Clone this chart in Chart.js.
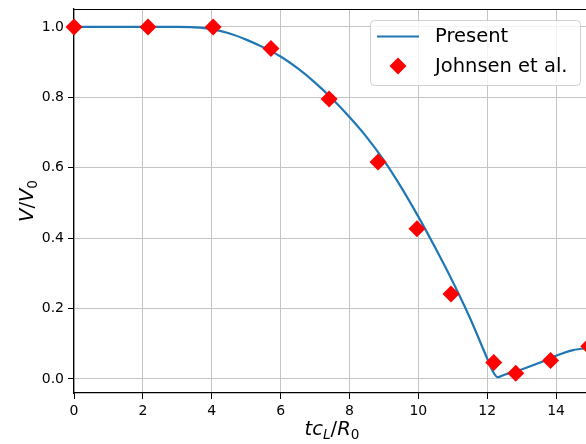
<!DOCTYPE html>
<html>
<head>
<meta charset="utf-8">
<script src="https://cdn.jsdelivr.net/npm/chart.js@4/dist/chart.umd.min.js"></script>
<style>
  html, body { margin: 0; padding: 0; background: #fff; }
  #wrap { width: 586px; height: 444px; position: relative; }
</style>
</head>
<body>
<div id="wrap"><canvas id="chart" width="586" height="444"></canvas></div>
<script>
// curve from the present model
const presentX = [0, 1, 2, 3, 3.5, 4, 4.5, 5, 5.5, 6, 6.5, 7, 7.5, 8, 8.5, 9, 9.5, 10, 10.5, 11, 11.5, 12, 12.15, 12.3, 12.5, 13, 13.5, 14, 14.5, 15];
const presentY = [1, 1, 1, 1, 0.999, 0.994, 0.982, 0.964, 0.942, 0.916, 0.882, 0.842, 0.796, 0.744, 0.687, 0.621, 0.545, 0.461, 0.371, 0.276, 0.173, 0.058, 0.024, 0.005, 0.012, 0.027, 0.045, 0.066, 0.082, 0.088];

// Johnsen et al. reference points
const johnsenX = [0, 2.15, 4.04, 5.72, 7.41, 8.83, 9.96, 10.95, 12.19, 12.83, 13.84, 14.95];
const johnsenY = [1.0, 1.0, 1.0, 0.939, 0.795, 0.616, 0.427, 0.241, 0.047, 0.016, 0.052, 0.093];

const xTicks = [0, 2, 4, 6, 8, 10, 12, 14];
const yTicks = [0.0, 0.2, 0.4, 0.6, 0.8, 1.0];
const legendLabels = ['Present', 'Johnsen et al.'];

const blue = '#1f77b4';
const red = '#ff0000';
const FONT = '"DejaVu Sans", sans-serif';

// draws a piece of math-like text: parts = [text, italic, sub]
function mathText(ctx, parts, size) {
  let w = 0;
  const fonts = parts.map(p => {
    const s = p[2] ? size * 0.7 : size;
    const f = (p[1] ? 'italic ' : '') + s + 'px ' + FONT;
    ctx.font = f;
    const pw = ctx.measureText(p[0]).width;
    w += pw;
    return { f, pw, sub: p[2] };
  });
  return { width: w, draw(x, y) {
    let cx = x;
    parts.forEach((p, i) => {
      ctx.font = fonts[i].f;
      ctx.fillText(p[0], cx, fonts[i].sub ? y + size * 0.22 : y);
      cx += fonts[i].pw;
    });
  }};
}

const extras = {
  id: 'extras',
  afterDraw(chart) {
    const ctx = chart.ctx;
    const a = chart.chartArea;
    ctx.save();
    // top spine
    ctx.strokeStyle = '#000';
    ctx.lineWidth = 1;
    ctx.beginPath();
    ctx.moveTo(a.left, a.top + 0.5);
    ctx.lineTo(a.right, a.top + 0.5);
    ctx.stroke();

    ctx.fillStyle = '#000';
    ctx.textBaseline = 'alphabetic';
    // x axis title
    const xt = mathText(ctx, [['tc', true], ['L', true, true], ['/', false], ['R', true], ['0', false, true]], 19.5);
    xt.draw(332 - xt.width / 2, 435);
    // y axis title
    ctx.save();
    ctx.translate(33, 201);
    ctx.rotate(-Math.PI / 2);
    const yt = mathText(ctx, [['V', true], ['/', false], ['V', true], ['0', false, true]], 19.5);
    yt.draw(-yt.width / 2, 0);
    ctx.restore();

    // legend
    const lx = 370, ly = 20, lw = 210, lh = 65;
    ctx.fillStyle = 'rgba(255,255,255,0.8)';
    ctx.strokeStyle = '#d0d0d0';
    ctx.lineWidth = 1;
    ctx.beginPath();
    ctx.roundRect(lx + 0.5, ly + 0.5, lw, lh, 4);
    ctx.fill();
    ctx.stroke();

    ctx.strokeStyle = blue;
    ctx.lineWidth = 2.2;
    ctx.beginPath();
    ctx.moveTo(377, 36.5);
    ctx.lineTo(419, 36.5);
    ctx.stroke();

    ctx.fillStyle = red;
    ctx.beginPath();
    ctx.moveTo(398 - 8.5, 66);
    ctx.lineTo(398, 66 - 8.5);
    ctx.lineTo(398 + 8.5, 66);
    ctx.lineTo(398, 66 + 8.5);
    ctx.closePath();
    ctx.fill();

    ctx.fillStyle = '#000';
    ctx.font = '19.5px ' + FONT;
    ctx.textBaseline = 'middle';
    ctx.fillText(legendLabels[0], 435, 37);
    ctx.fillText(legendLabels[1], 435, 67);
    ctx.restore();
  }
};

new Chart(document.getElementById('chart'), {
  type: 'scatter',
  data: {
    datasets: [
      {
        label: legendLabels[0],
        type: 'line',
        data: presentX.map((x, i) => ({ x: x, y: presentY[i] })),
        borderColor: blue,
        borderWidth: 2.2,
        pointRadius: 0,
        cubicInterpolationMode: 'monotone',
        fill: false,
        order: 1
      },
      {
        label: legendLabels[1],
        data: johnsenX.map((x, i) => ({ x: x, y: johnsenY[i] })),
        pointStyle: 'rectRot',
        pointRadius: 8.5,
        backgroundColor: red,
        borderWidth: 0,
        clip: false,
        order: 0
      }
    ]
  },
  options: {
    responsive: false,
    animation: false,
    layout: { autoPadding: false, padding: { top: 9, right: 0, left: 0, bottom: 0 } },
    plugins: { legend: { display: false }, tooltip: { enabled: false } },
    scales: {
      x: {
        type: 'linear',
        min: 0,
        max: 14.87,
        afterFit(s) { s.height = 51; s.paddingLeft = 0; s.paddingRight = 0; },
        afterBuildTicks(s) { s.ticks = xTicks.map(v => ({ value: v })); },
        grid: { color: '#c4c4c4', lineWidth: 1, tickLength: 6, tickColor: '#000' },
        border: { color: '#000', width: 1.2 },
        ticks: { color: '#000', font: { family: FONT, size: 14 }, padding: 4, maxRotation: 0,
                 callback: v => String(v) }
      },
      y: {
        min: -0.04,
        max: 1.051,
        afterFit(s) { s.width = 74; s.paddingTop = 0; s.paddingBottom = 0; },
        afterBuildTicks(s) { s.ticks = yTicks.map(v => ({ value: v })); },
        grid: { color: '#c4c4c4', lineWidth: 1, tickLength: 6, tickColor: '#000' },
        border: { color: '#000', width: 1.2 },
        ticks: { color: '#000', font: { family: FONT, size: 14 }, padding: 4,
                 callback: v => v.toFixed(1) }
      }
    }
  },
  plugins: [extras]
});
</script>
</body>
</html>
